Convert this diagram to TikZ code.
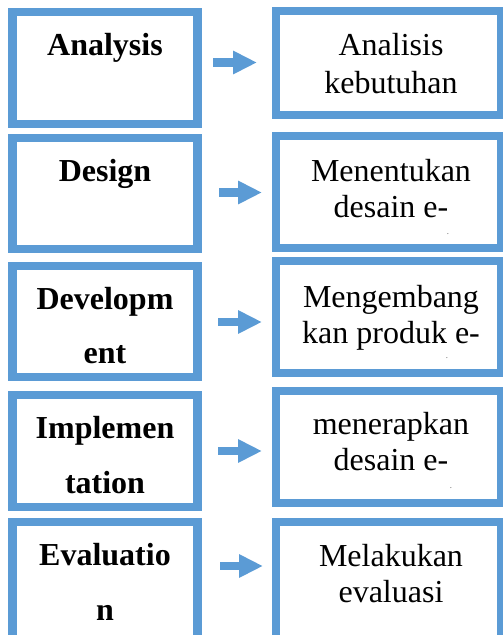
\documentclass[tikz,border=0pt]{standalone}
\usepackage{fontspec}
\setmainfont{Liberation Serif}
\usetikzlibrary{arrows.meta}
\definecolor{boxblue}{HTML}{5B9BD5}
\tikzset{
  box/.style={draw=boxblue, line width=8.5pt, fill=white, inner sep=0pt, outer sep=0pt},
  ltext/.style={anchor=base, inner sep=0pt, font=\fontsize{32}{38}\selectfont\bfseries},
  rtext/.style={anchor=base, inner sep=0pt, font=\fontsize{32}{38}\selectfont},
  flow/.style={draw=boxblue, line width=8.5pt, -{Triangle[length=24pt,width=22pt]}},
  dot/.style={anchor=base, inner sep=0pt, font=\fontsize{7}{8}\selectfont}
}
\begin{document}
\begin{tikzpicture}[x=1pt,y=-1pt]
\useasboundingbox (0,0) rectangle (503,635);
% left boxes
\node[box, minimum width=185pt, minimum height=112pt] (L1) at (105,68) {};
\node[box, minimum width=185pt, minimum height=111pt] (L2) at (105,193.5) {};
\node[box, minimum width=185pt, minimum height=111pt] (L3) at (105,321.5) {};
\node[box, minimum width=185pt, minimum height=112pt] (L4) at (105,451) {};
\node[box, minimum width=185pt, minimum height=124pt] (L5) at (105,584) {};
% right boxes
\node[box, minimum width=225pt, minimum height=104pt] (R1) at (388.5,63) {};
\node[box, minimum width=225pt, minimum height=112pt] (R2) at (388.5,192) {};
\node[box, minimum width=225pt, minimum height=112pt] (R3) at (388.5,317) {};
\node[box, minimum width=225pt, minimum height=112pt] (R4) at (388.5,447) {};
\node[box, minimum width=225pt, minimum height=124pt] (R5) at (388.5,584) {};
% left texts
\node[ltext] (t1) at (105,55) {Analysis};
\node[ltext] (t2) at (105,181) {Design};
\node[ltext] (t3a) at (105,309) {Developm};
\node[ltext] (t3b) at (105,363) {ent};
\node[ltext] (t4a) at (105,438) {Implemen};
\node[ltext] (t4b) at (105,493) {tation};
\node[ltext] (t5a) at (105,565) {Evaluatio};
\node[ltext] (t5b) at (105,620) {n};
% right texts
\node[rtext] (r1a) at (391,55) {Analisis};
\node[rtext] (r1b) at (391,93) {kebutuhan};
\node[rtext] (r2a) at (391,181) {Menentukan};
\node[rtext] (r2b) at (391,217) {desain e-};
\node[rtext] (r3a) at (391,307) {Mengembang};
\node[rtext] (r3b) at (391,343) {kan produk e-};
\node[rtext] (r4a) at (391,434) {menerapkan};
\node[rtext] (r4b) at (391,470) {desain e-};
\node[rtext] (r5a) at (391,566) {Melakukan};
\node[rtext] (r5b) at (391,602) {evaluasi};
% stray dots
\node[dot] (d2) at (448,234) {.};
\node[dot] (d3) at (447,358) {.};
\node[dot] (d4) at (451,488) {.};
% arrows
\coordinate (a1s) at (213,62.5); \coordinate (a1e) at (257,62.5);
\coordinate (a2s) at (219,192.5); \coordinate (a2e) at (262,192.5);
\coordinate (a3s) at (218,322); \coordinate (a3e) at (262,322);
\coordinate (a4s) at (218,451); \coordinate (a4e) at (262,451);
\coordinate (a5s) at (220,566); \coordinate (a5e) at (263,566);
\draw[flow] (a1s) -- (a1e);
\draw[flow] (a2s) -- (a2e);
\draw[flow] (a3s) -- (a3e);
\draw[flow] (a4s) -- (a4e);
\draw[flow] (a5s) -- (a5e);
\end{tikzpicture}
\end{document}
